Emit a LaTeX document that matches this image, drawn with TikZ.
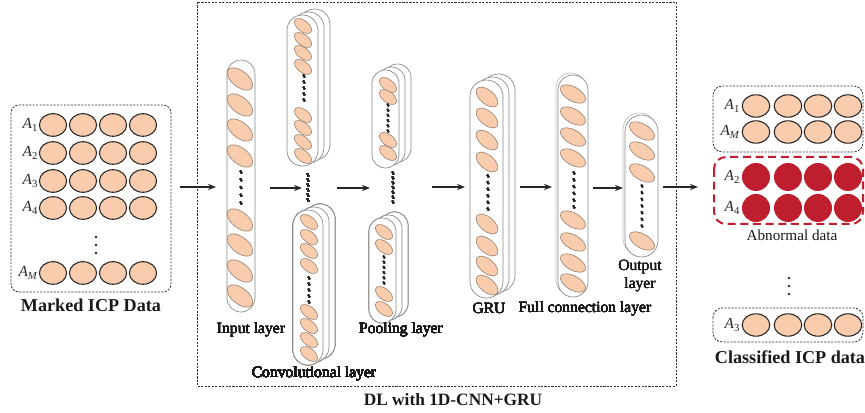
\documentclass[tikz,border=0pt]{standalone}
\usepackage{fontspec}
\setmainfont{Liberation Serif}
\usetikzlibrary{arrows.meta}

\definecolor{peach}{RGB}{248,204,172}
\definecolor{abred}{RGB}{190,30,45}
\definecolor{cellrim}{RGB}{150,128,112}
\definecolor{capsrim}{RGB}{135,135,135}

% vertical capsule given by its corner coordinates (x1,y1,x2,y2)
\newcommand\capsule[5][]{%
  \pgfmathsetmacro\capxa{#2}\pgfmathsetmacro\capya{#3}%
  \pgfmathsetmacro\capxb{#4}\pgfmathsetmacro\capyb{#5}%
  \pgfmathsetmacro\capr{(\capxb-\capxa)/2*0.75-0.05}%
  \draw[capsline,#1,rounded corners=\capr pt] (\capxa,\capya) rectangle (\capxb,\capyb);}
% three stacked capsules (feature maps), front one last
\newcommand\capstack[4]{%
  \capsule{#1+12}{#2-6}{#3+12}{#4-6}%
  \capsule{#1+6}{#2-3}{#3+6}{#4-3}%
  \capsule{#1}{#2}{#3}{#4}}
% tilted neuron: x, y, half axes a, b, angle
\newcommand\neuron[5]{%
  \draw[cellstyle, rotate around={#5:(#1,#2)}] (#1,#2) ellipse [x radius=#3, y radius=#4];}
% column of slanted ticks: x, first y, last y, number of gaps
\newcommand\tickcol[4]{%
  \foreach \k in {0,...,#4}{%
    \pgfmathsetmacro\ty{#2+(#3-#2)*\k/#4}%
    \draw[tickline] (#1-0.7,\ty-1.3) -- (#1+0.7,\ty+1.3);}}

\begin{document}
\begin{tikzpicture}[x=0.75pt,y=-0.75pt,
  capsline/.style={draw=capsrim, line width=0.5pt, fill=white},
  cellstyle/.style={fill=peach, draw=cellrim, line width=0.45pt},
  tickline/.style={line width=1.3pt, draw=black!85},
  datacell/.style={fill=peach, draw=black!85, line width=0.8pt},
  badcell/.style={fill=abred},
  panelbox/.style={draw=black!80, line width=0.6pt, dash pattern=on 1.6pt off 1pt},
  redbox/.style={draw=abred, line width=1.5pt, dash pattern=on 6pt off 3.5pt},
  flow/.style={-{Stealth[length=6pt,width=4.6pt]}, line width=0.8pt, draw=black!85},
  lbl/.style={font=\fontsize{11.7}{13.5}\selectfont, text=black!90, inner sep=0pt},
  title/.style={font=\fontsize{13.6}{15}\selectfont\bfseries, text=black!90, inner sep=0pt},
  rowlbl/.style={font=\fontsize{11.5}{13}\selectfont, text=black!85, anchor=east, inner sep=0.5pt}
]
\useasboundingbox (0,0) rectangle (865,413);

% ---------------- marked input data ----------------
\draw[panelbox, rounded corners=6pt] (11,105) rectangle (171,292);
\foreach \cx in {53,83,113,143}
  \foreach \cy in {125,153,181,208,273}
    \draw[datacell] (\cx,\cy) ellipse [x radius=13.6, y radius=11.3];
\node[rowlbl] (lA1) at (39,125) {\textit{A}\textsubscript{1}};
\node[rowlbl] (lA2) at (39,153) {\textit{A}\textsubscript{2}};
\node[rowlbl] (lA3) at (39,181) {\textit{A}\textsubscript{3}};
\node[rowlbl] (lA4) at (39,208) {\textit{A}\textsubscript{4}};
\node[rowlbl] (lAM) at (39,273) {\textit{A}\textsubscript{\textit{M}}};
\foreach \dy in {237,245,253} \fill[black!85] (96,\dy) circle (1.4);
\node[title] (marked) at (91,305) {Marked ICP Data};

% ---------------- deep learning block ----------------
\draw[panelbox] (197,2) rectangle (676,386);
\node[title, font=\fontsize{13}{15}\selectfont\bfseries] (dl) at (453,400) {DL with 1D-CNN+GRU};

% input layer
\capsule{227}{60}{255}{312}
\foreach \ny in {79,105,130,156,220,245,271,296} \neuron{240}{\ny}{15}{8}{-38}
\tickcol{241}{172}{203}{4}
\node[lbl] (linput) at (251,330) {Input layer};

% convolutional layer (two stacks)
\capstack{287}{15}{318}{166}
\foreach \ny in {26,40,53,67,115,128,142,156} \neuron{303}{\ny}{10}{5.5}{-38}
\tickcol{304}{76}{100}{4}
\capstack{293}{210}{323}{365}
\foreach \ny in {222,237,251,266,312,326,340,354} \neuron{309}{\ny}{10}{5.5}{-38}
\tickcol{309}{278}{302}{4}
\tickcol{308}{175}{200}{5}
\node[lbl] (lconv) at (314,374) {Convolutional layer};

% pooling layer (two stacks)
\capstack{372}{70}{399}{168}
\foreach \ny in {85,97,140,153} \neuron{388}{\ny}{10}{5.5}{-38}
\tickcol{388}{105}{131}{5}
\capstack{369}{218}{396}{323}
\foreach \ny in {232,247,294,309} \neuron{384}{\ny}{10}{5.5}{-38}
\tickcol{384}{257}{283}{5}
\tickcol{393}{173}{202}{6}
\node[lbl] (lpool) at (401,330) {Pooling layer};

% GRU layer
\capstack{470}{80}{503}{298}
\foreach \ny in {97,118,140,162,224,246,266,285} \neuron{487}{\ny}{13}{7}{-40}
\tickcol{488}{176}{209}{5}
\node[lbl] (lgru) at (489,308) {GRU};

% fully connected layer
\capsule[draw=black!25]{556}{73}{586}{295}
\capsule{558}{75}{588}{297}
\foreach \ny in {94,116,137,158,220,242,263,283} \neuron{573}{\ny}{14}{7}{-30}
\tickcol{574}{173}{207}{5}
\node[lbl] (lfc) at (585,309) {Full connection layer};

% output layer
\capsule[draw=black!25]{623}{113}{656}{255}
\capsule{625}{115}{658}{257}
\foreach \ny in {131,151,173,241} \neuron{642}{\ny}{14}{7}{-30}
\tickcol{642}{186}{226}{6}
\node[lbl, align=center] (lout) at (640,276) {Output\\layer};

% ---------------- connectors ----------------
\coordinate (s1) at (180,187); \coordinate (e1) at (216,187);
\coordinate (s2) at (270,188); \coordinate (e2) at (302,188);
\coordinate (s3) at (337,188); \coordinate (e3) at (370,188);
\coordinate (s4) at (432,187); \coordinate (e4) at (465,187);
\coordinate (s5) at (520,187); \coordinate (e5) at (552,187);
\coordinate (s6) at (593,188); \coordinate (e6) at (623,188);
\coordinate (s7) at (663,187); \coordinate (e7) at (698,187);
\foreach \i in {1,...,7} \draw[flow] (s\i) -- (e\i);

% ---------------- classified output data ----------------
\draw[panelbox, rounded corners=7pt] (713,86) rectangle (863,152);
\draw[redbox, rounded corners=9pt] (714,157) rectangle (863,224);
\draw[panelbox, rounded corners=7pt] (713,308) rectangle (863,342);
\foreach \cx in {756,788,818,848} {
  \foreach \cy in {106,132,325}
    \draw[datacell] (\cx,\cy) ellipse [x radius=13.8, y radius=11.2];
  \foreach \cy in {177,208}
    \fill[badcell] (\cx,\cy) circle (14);
}
\node[rowlbl] (rA1) at (741,106) {\textit{A}\textsubscript{1}};
\node[rowlbl] (rAM) at (741,132) {\textit{A}\textsubscript{\textit{M}}};
\node[rowlbl] (rA2) at (741,177) {\textit{A}\textsubscript{2}};
\node[rowlbl] (rA4) at (741,208) {\textit{A}\textsubscript{4}};
\node[rowlbl] (rA3) at (741,325) {\textit{A}\textsubscript{3}};
\node[lbl, font=\fontsize{11.4}{13}\selectfont] (labn) at (792,235) {Abnormal data};
\foreach \dy in {278,286,294} \fill[black!85] (789,\dy) circle (1.4);
\node[title] (classified) at (790,357) {Classified ICP data};

\end{tikzpicture}
\end{document}
